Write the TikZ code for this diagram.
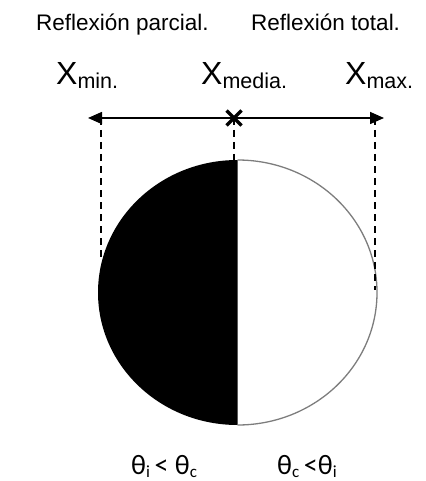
\documentclass[tikz,border=0pt]{standalone}
\usepackage{fontspec}
\setmainfont{Liberation Sans}
\newfontfamily\calib{Carlito}
\usetikzlibrary{arrows.meta,calc}
\definecolor{rim}{RGB}{125,125,125}
\tikzset{
  toplabel/.style={anchor=base west, inner sep=0pt, font=\fontsize{22.5bp}{26bp}\selectfont},
  xlabel/.style={anchor=base west, inner sep=0pt, font=\fontsize{32bp}{36bp}\selectfont},
  thlabel/.style={anchor=base west, inner sep=0pt, font=\calib\fontsize{28bp}{30bp}\selectfont},
  guide/.style={line width=1.5bp, dash pattern=on 7bp off 5bp},
  axis/.style={line width=1.6bp, {Triangle[length=14bp,width=12bp]}-{Triangle[length=14bp,width=12bp]}},
}
\newcommand{\xsub}[1]{{\fontsize{21.5bp}{24bp}\selectfont\raisebox{-4bp}{#1}}}
\newcommand{\thsub}[1]{\raisebox{-3bp}{\fontsize{17bp}{18bp}\selectfont #1}}
\begin{document}
\begin{tikzpicture}[x=1bp,y=-1bp]
\useasboundingbox (0,0) rectangle (425,481);
% labels
\node[toplabel] (rp) at (36,31) {Reflexión parcial.};
\node[toplabel] (rt) at (251,31) {Reflexión total.};
\node[xlabel] (xmin) at (56,85) {X\xsub{min.}};
\node[xlabel] (xmed) at (201,85) {X\xsub{media.}};
\node[xlabel] (xmax) at (345,85) {X\xsub{max.}};
% axis
\coordinate (al) at (88,118);
\coordinate (ar) at (384,118);
\coordinate (am) at (234,118);
\draw[axis] (al) -- (ar);
\draw[line width=3.5bp] ($(am)+(-7.5,-7.5)$) -- ($(am)+(7.5,7.5)$) ($(am)+(-7.5,7.5)$) -- ($(am)+(7.5,-7.5)$);
% circle
\coordinate (c) at (237.5,292.5);
\begin{scope}
\clip (90,150) rectangle (237.5,440);
\fill[black] (c) ellipse[x radius=139.5bp, y radius=132.5bp];
\end{scope}
\begin{scope}
\clip (237.5,150) rectangle (390,440);
\draw[rim, line width=1.3bp] (c) ellipse[x radius=139.5bp, y radius=132.5bp];
\end{scope}
% guides
\coordinate (gl) at (101,262);
\coordinate (gm) at (234,160);
\coordinate (gr) at (375,290);
\draw[guide] (101,118) -- (gl);
\draw[guide] (am) -- (gm);
\draw[guide] (375,118) -- (gr);
% bottom labels
\node[thlabel] (t1) at (131,474) {θ\thsub{i}\,< θ\thsub{c}};
\node[thlabel] (t2) at (277,474) {θ\thsub{c}\,<θ\thsub{i}};
\end{tikzpicture}
\end{document}
